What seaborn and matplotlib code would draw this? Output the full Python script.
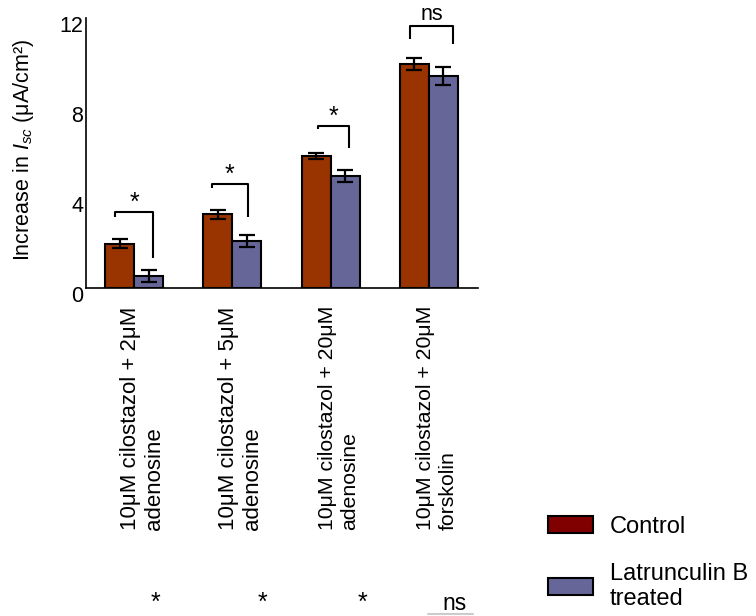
import numpy as np
import pandas as pd
import matplotlib
matplotlib.use("Agg")
import matplotlib.pyplot as plt
import matplotlib.transforms as mtransforms
from matplotlib.patches import Patch
from matplotlib.lines import Line2D
import seaborn as sns

# ---- data ---------------------------------------------------------------
conditions = [
    "10μM cilostazol + 2μM\nadenosine",
    "10μM cilostazol + 5μM\nadenosine",
    "10μM cilostazol + 20μM\nadenosine",
    "10μM cilostazol + 20μM\nforskolin",
]
groups = ["Control", "Latrunculin B\ntreated"]
control_mean = [1.97, 3.29, 5.89, 9.96]
control_sem = [0.20, 0.20, 0.14, 0.26]
latb_mean = [0.53, 2.10, 4.99, 9.42]
latb_sem = [0.27, 0.27, 0.27, 0.40]
sig_labels = ["*", "*", "*", "ns"]
# bracket geometry per condition: left x, right x (offset from group centre),
# top y, left leg end y, right leg end y
br_left = [-0.19, -0.21, -0.13, -0.19]
br_right = [0.19, 0.16, 0.19, 0.25]
br_top = [3.40, 4.64, 7.21, 11.66]
br_left_end = [3.18, 4.46, 7.08, 11.08]
br_right_end = [1.35, 3.18, 6.24, 10.86]

bar_colors = ["#993300", "#666699"]
legend_colors = ["#800000", "#666699"]

df = pd.DataFrame({
    "condition": conditions * 2,
    "group": [groups[0]] * 4 + [groups[1]] * 4,
    "value": control_mean + latb_mean,
})

# ---- style --------------------------------------------------------------
sns.set_style("ticks")
plt.rcParams["font.family"] = ["Liberation Sans", "DejaVu Sans"]
plt.rcParams["mathtext.fontset"] = "custom"
plt.rcParams["mathtext.rm"] = "Liberation Sans"
plt.rcParams["mathtext.it"] = "Liberation Sans:italic"
for key in ["text.color", "axes.labelcolor", "xtick.color", "ytick.color"]:
    plt.rcParams[key] = "black"
FS = 15.5

fig = plt.figure(figsize=(7.56, 6.16), dpi=100)
W, H = 756, 616
ax = fig.add_axes([86 / W, 1 - 288.3 / H, (478 - 86) / W, (288.3 - 18.3) / H])

sns.barplot(data=df, x="condition", y="value", hue="group",
            palette=bar_colors, saturation=1, edgecolor="black",
            linewidth=1.5, width=0.59, errorbar=None, legend=False, ax=ax)

# error bars on top of each bar
for cont, sems in zip(ax.containers, [control_sem, latb_sem]):
    for patch, e in zip(cont.patches, sems):
        xc = patch.get_x() + patch.get_width() / 2
        ax.errorbar(xc, patch.get_height(), yerr=e, fmt="none",
                    ecolor="black", elinewidth=1.6, capsize=5.6,
                    capthick=1.6, zorder=5)

# significance brackets
for i, lab in enumerate(sig_labels):
    xl, xr = i + br_left[i], i + br_right[i]
    ax.plot([xl, xl, xr, xr],
            [br_left_end[i], br_top[i], br_top[i], br_right_end[i]],
            color="black", lw=1.5, solid_capstyle="butt", clip_on=False)
    xm = (xl + xr) / 2
    if lab == "*":
        ax.text(xm, br_top[i] + 0.1, lab, ha="center", va="baseline",
                fontsize=18, clip_on=False)
    else:
        ax.text(xm, br_top[i] + 0.27, lab, ha="center", va="baseline",
                fontsize=15.5, clip_on=False)

ax.set_xlim(-0.49, 3.5)
ax.set_ylim(0, 12)
ax.set_yticks([0, 4, 8, 12])
ax.tick_params(axis="both", length=0, labelsize=FS)
ax.tick_params(axis="y", pad=2)
down = mtransforms.ScaledTranslation(0, -6 / 100, fig.dpi_scale_trans)
for t in ax.get_yticklabels():
    t.set_transform(t.get_transform() + down)

ax.set_xticks(range(len(conditions)))
ax.set_xticklabels(conditions, rotation=90, va="bottom", ha="center",
                   multialignment="left")
shift = mtransforms.ScaledTranslation(8 / 100, -237 / 100,
                                      fig.dpi_scale_trans)
for t, size in zip(ax.get_xticklabels(), [16.0, 16.0, 15.3, 15.3]):
    t.set_fontsize(size)
    t.set_transform(t.get_transform() + shift)

ax.set_xlabel("")
ax.set_ylabel("Increase in $I_{sc}$ (μA/cm²)", fontsize=FS)
ax.yaxis.set_label_coords((36 - 86) / 392, 0.512)

for s in ["top", "right"]:
    ax.spines[s].set_visible(False)
for s in ["left", "bottom"]:
    ax.spines[s].set_linewidth(1.2)
    ax.spines[s].set_color("black")

# legend
handles = [Patch(facecolor=c, edgecolor="black", linewidth=1.5)
           for c in legend_colors]
fig.legend(handles, groups, loc="upper left",
           bbox_to_anchor=(548 / W, 1 - 516 / H), frameon=False,
           borderpad=0, borderaxespad=0, handlelength=1.9,
           handleheight=0.76, handletextpad=0.72, labelspacing=1.05,
           fontsize=17)

# repeated significance marks along the lower edge
for xpix, lab in zip([155, 262, 362, 455], sig_labels):
    fig.text(xpix / W, 1 / H, lab, ha="center", va="bottom",
             fontsize=18 if lab == "*" else 16.5)
fig.add_artist(Line2D([428 / W, 473 / W], [1 - 614 / H, 1 - 614 / H],
                      color="#cccccc", lw=1.5))

fig.savefig("out.png", dpi=100)
